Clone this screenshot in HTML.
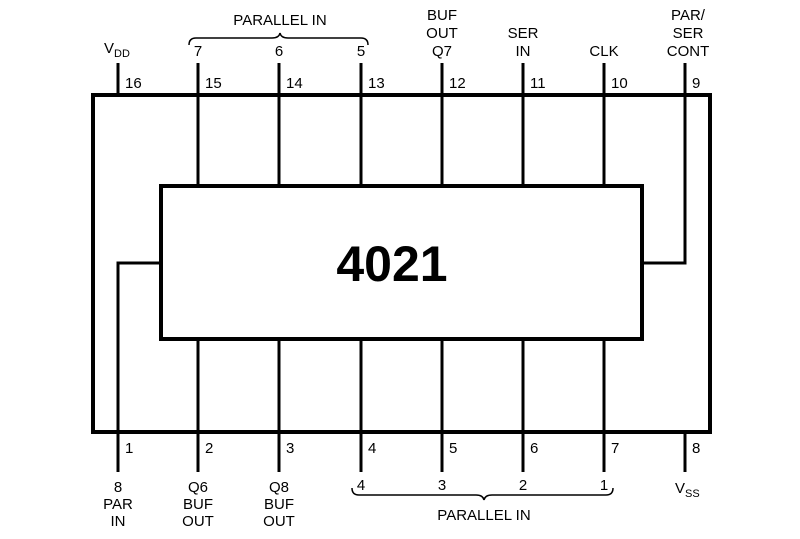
<!DOCTYPE html>
<html><head><style>
body{margin:0;background:#fff}
svg text{font-family:"Liberation Sans",sans-serif;font-size:15px;fill:#000}
</style></head><body>
<svg width="800" height="534" xmlns="http://www.w3.org/2000/svg">
<g stroke="#000" stroke-width="4" fill="none">
<rect x="93" y="95" width="617" height="337"/>
<rect x="161" y="186" width="481" height="153"/>
</g>
<g stroke="#000" stroke-width="3" fill="none">
<line x1="118" y1="63" x2="118" y2="95"/>
<line x1="198" y1="63" x2="198" y2="186"/>
<line x1="279" y1="63" x2="279" y2="186"/>
<line x1="361" y1="63" x2="361" y2="186"/>
<line x1="442" y1="63" x2="442" y2="186"/>
<line x1="523" y1="63" x2="523" y2="186"/>
<line x1="604" y1="63" x2="604" y2="186"/>
<polyline points="685,63 685,263 642,263"/>
<polyline points="161,263 118,263 118,472"/>
<line x1="198" y1="339" x2="198" y2="472"/>
<line x1="279" y1="339" x2="279" y2="472"/>
<line x1="361" y1="339" x2="361" y2="472"/>
<line x1="442" y1="339" x2="442" y2="472"/>
<line x1="523" y1="339" x2="523" y2="472"/>
<line x1="604" y1="339" x2="604" y2="472"/>
<line x1="685" y1="432" x2="685" y2="472"/>
</g>
<g stroke="#000" stroke-width="1.5" fill="none">
<path d="M189,45 Q189,38 196,38 L272,38 Q279,38 280,33 Q281,38 288,38 L361,38 Q368,38 368,45"/>
<path d="M352,488 Q352,495 359,495 L476,495 Q483,495 484,500 Q485,495 492,495 L606,495 Q613,495 613,488"/>
</g>
<text x="392" y="281" text-anchor="middle" style="font-size:50px;font-weight:bold">4021</text>
<g text-anchor="middle">
<text x="280" y="25">PARALLEL IN</text>
<text x="198" y="56">7</text><text x="279" y="56">6</text><text x="361" y="56">5</text>
<text x="442" y="20">BUF</text><text x="442" y="38">OUT</text><text x="442" y="56">Q7</text>
<text x="523" y="38">SER</text><text x="523" y="56">IN</text>
<text x="604" y="56">CLK</text>
<text x="688" y="20">PAR/</text><text x="688" y="38">SER</text><text x="688" y="56">CONT</text>
<text x="118" y="492">8</text><text x="118" y="509">PAR</text><text x="118" y="526">IN</text>
<text x="198" y="492">Q6</text><text x="198" y="509">BUF</text><text x="198" y="526">OUT</text>
<text x="279" y="492">Q8</text><text x="279" y="509">BUF</text><text x="279" y="526">OUT</text>
<text x="361" y="490">4</text><text x="442" y="490">3</text><text x="523" y="490">2</text><text x="604" y="490">1</text>
<text x="484" y="520">PARALLEL IN</text>
</g>
<text x="104" y="53">V<tspan font-size="11" dy="4">DD</tspan></text>
<text x="675" y="493">V<tspan font-size="11" dy="4">SS</tspan></text>
<g>
<text x="125" y="88">16</text><text x="205" y="88">15</text><text x="286" y="88">14</text><text x="368" y="88">13</text>
<text x="449" y="88">12</text><text x="530" y="88">11</text><text x="611" y="88">10</text><text x="692" y="88">9</text>
<text x="125" y="453">1</text><text x="205" y="453">2</text><text x="286" y="453">3</text><text x="368" y="453">4</text>
<text x="449" y="453">5</text><text x="530" y="453">6</text><text x="611" y="453">7</text><text x="692" y="453">8</text>
</g>
</svg>
</body></html>
